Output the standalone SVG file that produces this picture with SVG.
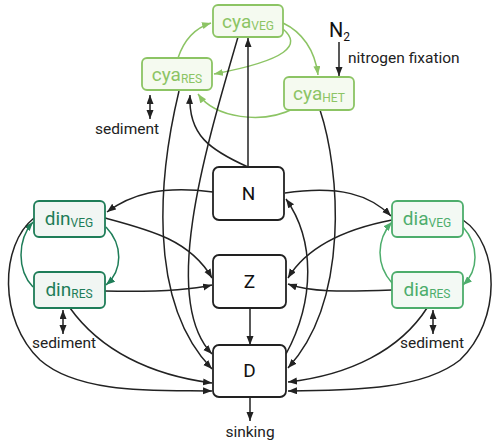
<svg xmlns="http://www.w3.org/2000/svg" width="500" height="444" viewBox="0 0 500 444">
<style>
text{font-family:Roboto,"Liberation Sans",sans-serif;}
.box{stroke-width:1.8;}
.blk{fill:#ffffff;stroke:#222222;}
.cya{fill:#f5faf0;stroke:#8cc464;}
.din{fill:#f1f6f3;stroke:#1e7d58;}
.dia{fill:#f3f9f4;stroke:#4dad6c;}
.lbl{font-size:19px;text-anchor:middle;}
.sub{font-size:12px;}
.c{fill:none;stroke-width:1.5;}
.k{stroke:#222222;}
.gc{stroke:#8cc464;}
.gn{stroke:#1e7d58;}
.gd{stroke:#4dad6c;}
.t{font-size:15.5px;fill:#222222;}
</style>
<defs>
<marker id="ak" markerUnits="userSpaceOnUse" markerWidth="10" markerHeight="8" refX="9" refY="3.5" orient="auto-start-reverse"><path d="M0 0 L9 3.5 L0 7 z" fill="#222222"/></marker>
<marker id="ac" markerUnits="userSpaceOnUse" markerWidth="10" markerHeight="8" refX="9" refY="3.5" orient="auto"><path d="M0 0 L9 3.5 L0 7 z" fill="#8cc464"/></marker>
<marker id="an" markerUnits="userSpaceOnUse" markerWidth="10" markerHeight="8" refX="9" refY="3.5" orient="auto"><path d="M0 0 L9 3.5 L0 7 z" fill="#1e7d58"/></marker>
<marker id="ad" markerUnits="userSpaceOnUse" markerWidth="10" markerHeight="8" refX="9" refY="3.5" orient="auto"><path d="M0 0 L9 3.5 L0 7 z" fill="#4dad6c"/></marker>
</defs>

<g id="connectors">
  <!-- cya green -->
  <path class="c gc" d="M178 58 C184 40 195 28 211 23" marker-end="url(#ac)"/>
  <path class="c gc" d="M283 29 C302 45 288 60 214 74" marker-end="url(#ac)"/>
  <path class="c gc" d="M283 23 C302 32 315 50 318 75" marker-end="url(#ac)"/>
  <path class="c gc" d="M295 108 C262 125 215 118 198 94" marker-end="url(#ac)"/>
  <!-- din / dia green -->
  <path class="c gn" d="M106 227 C123 245 123 270 106 285" marker-end="url(#an)"/>
  <path class="c gn" d="M33 287 C17 270 17 240 33 222" marker-end="url(#an)"/>
  <path class="c gd" d="M392 283 C376 265 376 240 392 222" marker-end="url(#ad)"/>
  <path class="c gd" d="M463 227 C479 245 479 270 463 285" marker-end="url(#ad)"/>
  <!-- black -->
  <path class="c k" d="M339 42 L339 76" marker-end="url(#ak)"/>
  <path class="c k" d="M150 95 L150 119" marker-start="url(#ak)" marker-end="url(#ak)"/>
  <path class="c k" d="M63 310 L63 334" marker-start="url(#ak)" marker-end="url(#ak)"/>
  <path class="c k" d="M433 310 L433 334" marker-start="url(#ak)" marker-end="url(#ak)"/>
  <path class="c k" d="M250 397 L250 421" marker-end="url(#ak)"/>
  <path class="c k" d="M250 308 L250 345" marker-end="url(#ak)"/>
  <path class="c k" d="M248 167 L248 38" marker-end="url(#ak)"/>
  <path class="c k" d="M238 37 C205 150 160 300 212 354" marker-end="url(#ak)"/>
  <path class="c k" d="M179 91 C160 170 145 300 212 369" marker-end="url(#ak)"/>
  <path class="c k" d="M248 167 C210 150 188 135 190 95" marker-end="url(#ak)"/>
  <path class="c k" d="M320 110 C340 170 350 300 288 368" marker-end="url(#ak)"/>
  <path class="c k" d="M286 354 C315 300 315 240 286 199" marker-end="url(#ak)"/>
  <path class="c k" d="M213 192 C160 185 130 195 107 212" marker-end="url(#ak)"/>
  <path class="c k" d="M285 193 C340 185 370 195 391 216" marker-end="url(#ak)"/>
  <path class="c k" d="M105 218 C150 230 190 240 212 278" marker-end="url(#ak)"/>
  <path class="c k" d="M105 291 C150 292 190 290 212 285" marker-end="url(#ak)"/>
  <path class="c k" d="M392 220 C340 230 305 250 288 278" marker-end="url(#ak)"/>
  <path class="c k" d="M392 290 C340 292 310 292 288 284" marker-end="url(#ak)"/>
  <path class="c k" d="M34 218 C0 245 -2 320 40 360 C80 395 160 390 212 391" marker-end="url(#ak)"/>
  <path class="c k" d="M70 308 C100 350 150 375 212 383" marker-end="url(#ak)"/>
  <path class="c k" d="M463 220 C500 245 502 320 460 360 C420 392 340 390 288 391" marker-end="url(#ak)"/>
  <path class="c k" d="M427 308 C400 350 350 375 288 382" marker-end="url(#ak)"/>
</g>

<g id="cyaVEG"><rect class="box cya" x="213" y="5" width="70" height="32" rx="5"/><text class="lbl" x="248" y="28" fill="#8cc464">cya<tspan class="sub" dy="2">VEG</tspan></text></g>
<g id="cyaRES"><rect class="box cya" x="142" y="58" width="70" height="32" rx="5"/><text class="lbl" x="177" y="81" fill="#8cc464">cya<tspan class="sub" dy="2">RES</tspan></text></g>
<g id="cyaHET"><rect class="box cya" x="284" y="77" width="70" height="33" rx="5"/><text class="lbl" x="319" y="100" fill="#8cc464">cya<tspan class="sub" dy="2">HET</tspan></text></g>
<g id="dinVEG"><rect class="box din" x="34" y="201" width="71" height="36" rx="5"/><text class="lbl" x="69" y="225" fill="#1e7d58">din<tspan class="sub" dy="2">VEG</tspan></text></g>
<g id="dinRES"><rect class="box din" x="34" y="272" width="71" height="36" rx="5"/><text class="lbl" x="69" y="296" fill="#1e7d58">din<tspan class="sub" dy="2">RES</tspan></text></g>
<g id="diaVEG"><rect class="box dia" x="392" y="201" width="71" height="36" rx="5"/><text class="lbl" x="427" y="225" fill="#4dad6c">dia<tspan class="sub" dy="2">VEG</tspan></text></g>
<g id="diaRES"><rect class="box dia" x="392" y="272" width="71" height="36" rx="5"/><text class="lbl" x="427" y="296" fill="#4dad6c">dia<tspan class="sub" dy="2">RES</tspan></text></g>
<g id="N"><rect class="box blk" x="213" y="167" width="71" height="53" rx="6"/><text class="lbl" x="248.5" y="200" fill="#111111" font-size="20">N</text></g>
<g id="Z"><rect class="box blk" x="213" y="255" width="73" height="53" rx="6"/><text class="lbl" x="249.5" y="288" fill="#111111" font-size="20">Z</text></g>
<g id="D"><rect class="box blk" x="213" y="345" width="73" height="52" rx="6"/><text class="lbl" x="249.5" y="377" fill="#111111" font-size="20">D</text></g>

<g id="labels">
  <text x="329" y="37" font-size="20" fill="#111111">N<tspan font-size="12" dy="4">2</tspan></text>
  <text class="t" x="348" y="63">nitrogen fixation</text>
  <text class="t" x="127" y="134" text-anchor="middle">sediment</text>
  <text class="t" x="64" y="348" text-anchor="middle">sediment</text>
  <text class="t" x="432" y="348" text-anchor="middle">sediment</text>
  <text class="t" x="250" y="437" text-anchor="middle">sinking</text>
</g>
</svg>
